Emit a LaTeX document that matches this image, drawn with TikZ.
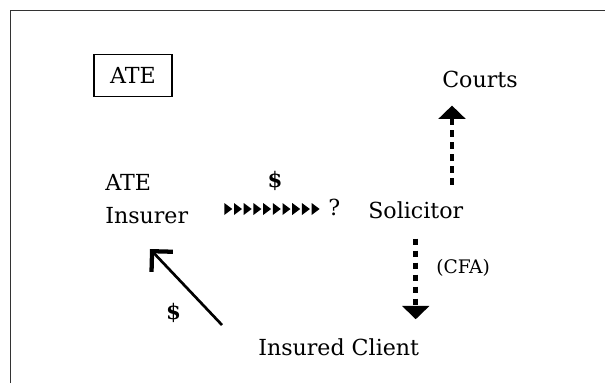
\documentclass[tikz,border=0pt]{standalone}
\usepackage{fontspec}
\setmainfont{DejaVu Serif}
\usetikzlibrary{arrows.meta}

\begin{document}
\begin{tikzpicture}[x=0.75pt, y=-0.75pt,
    lbl/.style={inner sep=0pt, anchor=base west, font=\fontsize{16.6}{24.75}\selectfont},
    money/.style={inner sep=0pt, anchor=base, font=\fontsize{16}{19}\selectfont\bfseries},
    dasharrow/.style={line width=3.5pt, dash pattern=on 5pt off 4pt, -{Triangle[width=20pt,length=10pt]}},
    payarrow/.style={line width=2pt, -{Straight Barb[length=11pt,width=22pt,line width=3.2pt]}}]
    \useasboundingbox (0,0) rectangle (605,383);

    % Frame (open at right and bottom)
    \draw[black!80, line width=1.3pt] (10.5,383) -- (10.5,10.5) -- (605,10.5);

    % Parties
    \node[draw, line width=0.9pt, inner sep=0pt, minimum width=58.5pt, minimum height=32pt,
          font=\fontsize{16.6}{20}\selectfont] (atebox) at (133,75.5) {ATE};
    \node[lbl, align=left] (insurer) at (105,223) {ATE\\Insurer};
    \node[lbl] (courts) at (442,87) {Courts};
    \node[lbl] (solicitor) at (368,218) {Solicitor};
    \node[lbl] (client) at (258,355) {Insured Client};

    % Labels
    \node[money] (fee) at (275,187) {\$};
    \node[money] (premium) at (173.5,319) {\$};
    \node[lbl] (query) at (328,215) {?};
    \node[lbl, font=\fontsize{14}{17}\selectfont] (cfa) at (436,273) {(CFA)};

    % Row of small heads, insurer -> solicitor
    \foreach \i in {0,...,9}
        \fill[shift={(224.3+9.7*\i,209)}] (0,-6) -- (8,0) -- (0,6) -- cycle;

    % Arrows
    \coordinate (upx) at (452,0);
    \draw[dasharrow, shorten <=12pt, shorten >=13.5pt] (solicitor.north -| upx) -- (courts.south -| upx);
    \draw[dasharrow, shorten <=15pt, shorten >=14pt] (solicitor.south) -- (solicitor.south |- client.north);
    \coordinate (paytail) at (222,325);
    \coordinate (payhead) at (150,249);
    \draw[payarrow] (paytail) -- (payhead);
\end{tikzpicture}
\end{document}
